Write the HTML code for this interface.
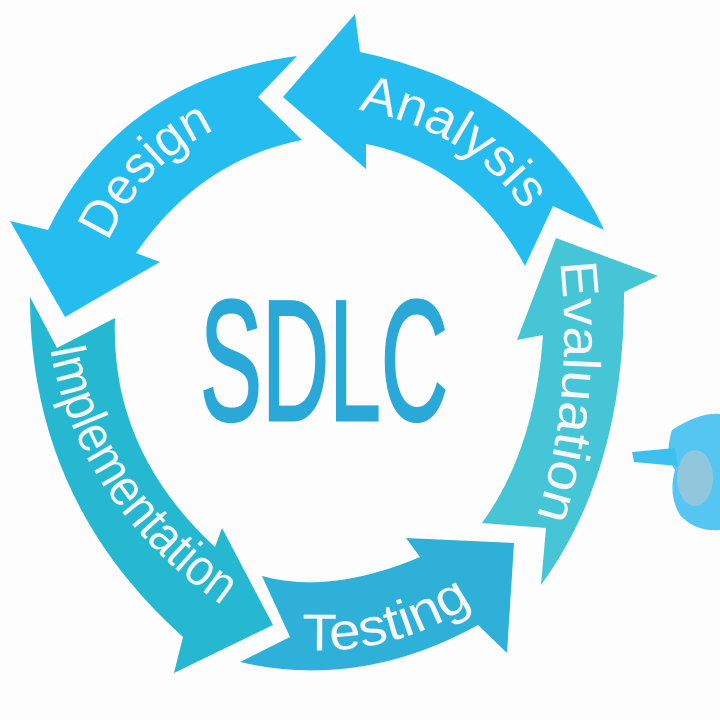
<!DOCTYPE html>
<html><head><style>html,body{margin:0;padding:0;background:#fff}svg{display:block}</style></head>
<body>
<svg width="720" height="720" viewBox="0 0 720 720" xmlns="http://www.w3.org/2000/svg">
<rect width="720" height="720" fill="#fdfdfd"/>
<!-- Design -->
<path d="M297,56 L258,97 L302,140 Q200,160 136,253 L160,262 L65,317 L10,221 L48,230 Q120,80 297,56 Z" fill="#25bdf0"/>
<!-- Analysis -->
<path d="M355,14 L360,52 Q540,90 604,230 L553,206 L525,266 Q470,165 366,144 L366,169 L283,97 Z" fill="#25bdf0"/>
<!-- Evaluation -->
<path d="M556,238 L658,276 L624,292 Q625,470 541,585 L546,528 L482,523 Q535,450 543,335 L517,340 Z" fill="#45c5d5"/>
<!-- Testing -->
<path d="M262,576 Q330,595 420,557 L406,538 L514,543 L507,653 L478,625 Q360,690 240,662 L290,637 Z" fill="#2eb0d8"/>
<!-- Implementation -->
<path d="M30,297 L57,348 L115,318 Q110,450 215,547 L222,528 L273,625 L174,673 L183,637 Q30,500 30,297 Z" fill="#25b8d0"/>
<!-- hand -->
<path d="M672,430 Q700,412 720,414 L720,530 Q695,532 680,515 Q668,495 675,470 Q664,455 672,430 Z" fill="#2ab6ee" opacity="0.8"/>
<path d="M632,452 L675,448 L678,466 L634,462 Z" fill="#3cc0ee"/>
<ellipse cx="695" cy="478" rx="18" ry="28" fill="#b8c8d0" opacity="0.6"/>
<defs>
<path id="pD" d="M108,242 Q150,150 240,120"/>
<path id="pA" d="M358,110 Q470,130 525,212"/>
<path id="pE" d="M560,262 Q575,400 535,522"/>
<path id="pI" d="M50,348 Q80,520 252,625"/>
<path id="pT" d="M302,650 Q400,655 478,600"/>
</defs>
<g font-family="Liberation Sans, sans-serif" fill="#f4f8fa" font-size="52">
<text><textPath href="#pD" textLength="158" lengthAdjust="spacingAndGlyphs">Design</textPath></text>
<text><textPath href="#pA" textLength="200" lengthAdjust="spacingAndGlyphs">Analysis</textPath></text>
<text><textPath href="#pE" textLength="258" lengthAdjust="spacingAndGlyphs">Evaluation</textPath></text>
<text><textPath href="#pI" textLength="318" lengthAdjust="spacingAndGlyphs">Implementation</textPath></text>
<text><textPath href="#pT" textLength="180" lengthAdjust="spacingAndGlyphs">Testing</textPath></text>
</g>
<text x="200" y="420" font-family="Liberation Sans, sans-serif" font-size="172" fill="#2aa9d8" stroke="#2aa9d8" stroke-width="3" textLength="248" lengthAdjust="spacingAndGlyphs">SDLC</text>
</svg>
</body></html>
